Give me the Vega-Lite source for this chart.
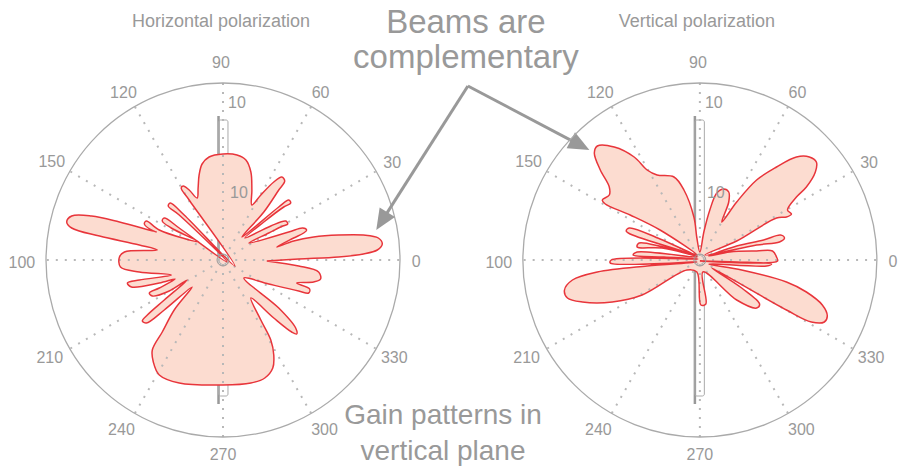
{
"$schema":"https://vega.github.io/schema/vega-lite/v6.json",
"width":898,"height":471,"padding":0,
"autosize":{"type":"fit","contains":"padding"},
"config":{"view":{"stroke":null},"text":{"font":"Liberation Sans"}},
"datasets":{
"spokes":[
{"x":17.7,"y":0,"lx":19.4,"ly":-0.2,"label":"0"},
{"x":15.33,"y":8.85,"lx":17.0,"ly":9.7,"label":"30"},
{"x":8.85,"y":15.33,"lx":9.8,"ly":16.7,"label":"60"},
{"x":0,"y":17.7,"lx":-0.2,"ly":19.7,"label":"90"},
{"x":-8.85,"y":15.33,"lx":-10.0,"ly":16.7,"label":"120"},
{"x":-15.33,"y":8.85,"lx":-17.2,"ly":9.8,"label":"150"},
{"x":-17.7,"y":0,"lx":-20.2,"ly":-0.3,"label":"100"},
{"x":-15.33,"y":-8.85,"lx":-17.4,"ly":-9.8,"label":"210"},
{"x":-8.85,"y":-15.33,"lx":-10.2,"ly":-17.0,"label":"240"},
{"x":0,"y":-17.7,"lx":0,"ly":-19.5,"label":"270"},
{"x":8.85,"y":-15.33,"lx":10.2,"ly":-17.0,"label":"300"},
{"x":15.33,"y":-8.85,"lx":17.2,"ly":-9.8,"label":"330"}],
"rlabels":[{"x":1.4,"y":15.7,"t":"10"},{"x":1.6,"y":6.7,"t":"10"}],
"origin":[{"x":0,"y":0}],
"hpol":[
{"i":1,"x":4.4,"y":-0.1},{"i":2,"x":7.6,"y":0.1},{"i":3,"x":11.6,"y":0.3},{"i":4,"x":14.1,"y":0.6},{"i":5,"x":15.5,"y":1.0},
{"i":6,"x":16.0,"y":1.6},{"i":7,"x":15.6,"y":2.2},{"i":8,"x":14.1,"y":2.5},{"i":9,"x":11.6,"y":2.5},{"i":10,"x":9.1,"y":2.3},
{"i":11,"x":7.1,"y":1.9},{"i":12,"x":5.4,"y":1.3},{"i":13,"x":7.1,"y":2.2},{"i":14,"x":8.1,"y":2.7},{"i":15,"x":8.4,"y":3.0},
{"i":16,"x":8.0,"y":3.2},{"i":17,"x":6.6,"y":2.8},{"i":18,"x":2.6,"y":1.7},{"i":19,"x":4.6,"y":2.7},{"i":20,"x":6.0,"y":3.4},
{"i":21,"x":6.5,"y":3.6},{"i":22,"x":6.3,"y":3.9},{"i":23,"x":4.8,"y":3.4},{"i":24,"x":2.2,"y":2.2},{"i":25,"x":4.1,"y":3.8},
{"i":26,"x":6.1,"y":5.3},{"i":27,"x":6.8,"y":5.7},{"i":28,"x":6.6,"y":6.0},{"i":29,"x":5.6,"y":5.3},{"i":30,"x":1.9,"y":2.3},
{"i":31,"x":4.1,"y":4.8},{"i":32,"x":5.6,"y":7.0},{"i":33,"x":6.2,"y":7.9},{"i":34,"x":5.9,"y":8.3},{"i":35,"x":5.1,"y":7.8},
{"i":36,"x":3.8,"y":6.5},{"i":37,"x":2.9,"y":5.5},{"i":38,"x":2.9,"y":7.0},{"i":39,"x":2.8,"y":8.8},{"i":40,"x":2.3,"y":10.0},
{"i":41,"x":1.4,"y":10.5},{"i":42,"x":0.0,"y":10.6},{"i":43,"x":-1.4,"y":10.3},{"i":44,"x":-2.1,"y":9.6},{"i":45,"x":-2.4,"y":8.5},
{"i":46,"x":-2.5,"y":7.2},{"i":47,"x":-2.6,"y":6.2},{"i":48,"x":-3.4,"y":7.0},{"i":49,"x":-4.0,"y":7.4},{"i":50,"x":-4.2,"y":7.2},
{"i":51,"x":-3.4,"y":6.0},{"i":52,"x":1.2,"y":-0.6},{"i":53,"x":-3.9,"y":4.5},{"i":54,"x":-5.3,"y":5.7},{"i":55,"x":-5.5,"y":5.4},
{"i":56,"x":-4.4,"y":4.5},{"i":57,"x":0.4,"y":-0.2},{"i":58,"x":-4.4,"y":3.2},{"i":59,"x":-5.9,"y":4.2},{"i":60,"x":-6.1,"y":3.9},
{"i":61,"x":-5.2,"y":3.2},{"i":62,"x":-2.4,"y":1.8},{"i":63,"x":-6.4,"y":3.0},{"i":64,"x":-7.7,"y":3.9},{"i":65,"x":-7.9,"y":3.6},
{"i":66,"x":-7.2,"y":3.0},{"i":67,"x":-6.7,"y":2.8},{"i":68,"x":-10.4,"y":3.8},{"i":69,"x":-13.2,"y":4.4},{"i":70,"x":-15.2,"y":4.4},
{"i":71,"x":-15.7,"y":3.8},{"i":72,"x":-15.2,"y":3.2},{"i":73,"x":-12.4,"y":2.4},{"i":74,"x":-8.4,"y":1.5},{"i":75,"x":-6.6,"y":1.0},
{"i":76,"x":-9.9,"y":0.8},{"i":77,"x":-10.4,"y":0.3},{"i":78,"x":-10.3,"y":-0.7},{"i":79,"x":-8.4,"y":-1.2},{"i":80,"x":-5.2,"y":-1.5},
{"i":81,"x":-8.4,"y":-2.0},{"i":82,"x":-9.6,"y":-2.3},{"i":83,"x":-9.2,"y":-2.7},{"i":84,"x":-6.4,"y":-2.3},{"i":85,"x":-4.8,"y":-1.9},
{"i":86,"x":-6.4,"y":-2.8},{"i":87,"x":-7.4,"y":-3.3},{"i":88,"x":-7.1,"y":-3.6},{"i":89,"x":-5.4,"y":-3.1},{"i":90,"x":-3.6,"y":-2.0},
{"i":91,"x":-5.9,"y":-4.0},{"i":92,"x":-7.6,"y":-5.5},{"i":93,"x":-8.1,"y":-6.1},{"i":94,"x":-7.7,"y":-6.3},{"i":95,"x":-5.9,"y":-5.0},
{"i":96,"x":-3.1,"y":-2.7},{"i":97,"x":-4.9,"y":-5.0},{"i":98,"x":-6.1,"y":-7.2},{"i":99,"x":-7.1,"y":-9.0},{"i":100,"x":-7.0,"y":-10.2},
{"i":101,"x":-6.4,"y":-11.5},{"i":102,"x":-4.4,"y":-12.3},{"i":103,"x":0.0,"y":-12.5},{"i":104,"x":2.8,"y":-12.3},{"i":105,"x":4.2,"y":-11.8},
{"i":106,"x":5.0,"y":-10.8},{"i":107,"x":5.1,"y":-9.5},{"i":108,"x":4.8,"y":-8.0},{"i":109,"x":3.8,"y":-6.0},{"i":110,"x":2.8,"y":-3.8},
{"i":111,"x":5.1,"y":-5.8},{"i":112,"x":6.9,"y":-7.2},{"i":113,"x":7.4,"y":-7.4},{"i":114,"x":7.3,"y":-6.8},{"i":115,"x":5.6,"y":-4.8},
{"i":116,"x":2.1,"y":-1.8},{"i":117,"x":4.6,"y":-2.4},{"i":118,"x":7.6,"y":-3.1},{"i":119,"x":8.6,"y":-3.3},{"i":120,"x":8.7,"y":-2.9},
{"i":121,"x":7.4,"y":-2.3},{"i":122,"x":9.1,"y":-2.2},{"i":123,"x":9.8,"y":-1.9},{"i":124,"x":9.6,"y":-1.2},{"i":125,"x":7.6,"y":-0.6},
{"i":126,"x":4.4,"y":-0.1}],
"vpol":[
{"i":1,"x":0.0,"y":-0.1},{"i":2,"x":7.8,"y":-0.1},{"i":3,"x":7.7,"y":0.3},{"i":4,"x":7.3,"y":0.9},{"i":5,"x":5.7,"y":0.9},
{"i":6,"x":3.0,"y":0.8},{"i":7,"x":0.9,"y":0.4},{"i":8,"x":3.7,"y":1.4},{"i":9,"x":6.4,"y":2.0},{"i":10,"x":8.1,"y":2.5},
{"i":11,"x":8.5,"y":2.2},{"i":12,"x":8.0,"y":1.8},{"i":13,"x":5.7,"y":1.5},{"i":14,"x":0.5,"y":0.5},{"i":15,"x":3.7,"y":1.9},
{"i":16,"x":7.7,"y":4.2},{"i":17,"x":8.7,"y":4.3},{"i":18,"x":9.2,"y":4.6},{"i":19,"x":8.8,"y":5.0},{"i":20,"x":9.7,"y":6.3},
{"i":21,"x":10.7,"y":7.3},{"i":22,"x":11.6,"y":8.8},{"i":23,"x":11.7,"y":9.8},{"i":24,"x":11.0,"y":10.3},{"i":25,"x":9.7,"y":10.3},
{"i":26,"x":7.7,"y":9.3},{"i":27,"x":5.7,"y":8.0},{"i":28,"x":3.7,"y":5.8},{"i":29,"x":2.2,"y":3.8},{"i":30,"x":2.9,"y":5.8},
{"i":31,"x":2.9,"y":6.8},{"i":32,"x":2.4,"y":7.1},{"i":33,"x":1.7,"y":6.7},{"i":34,"x":1.0,"y":5.0},{"i":35,"x":0.4,"y":2.8},
{"i":36,"x":0.0,"y":0.8},{"i":37,"x":-0.3,"y":2.2},{"i":38,"x":-0.6,"y":4.3},{"i":39,"x":-1.6,"y":7.0},{"i":40,"x":-2.6,"y":8.3},
{"i":41,"x":-4.3,"y":8.5},{"i":42,"x":-5.3,"y":9.0},{"i":43,"x":-6.6,"y":10.3},{"i":44,"x":-8.6,"y":11.3},{"i":45,"x":-10.3,"y":11.4},
{"i":46,"x":-10.6,"y":10.7},{"i":47,"x":-10.0,"y":9.0},{"i":48,"x":-9.1,"y":7.3},{"i":49,"x":-9.1,"y":6.5},{"i":50,"x":-9.8,"y":6.0},
{"i":51,"x":-9.5,"y":5.6},{"i":52,"x":-7.0,"y":4.5},{"i":53,"x":-4.0,"y":3.0},{"i":54,"x":-0.3,"y":0.5},{"i":55,"x":-4.0,"y":2.1},
{"i":56,"x":-7.1,"y":3.2},{"i":57,"x":-7.4,"y":2.9},{"i":58,"x":-7.0,"y":2.6},{"i":59,"x":-0.3,"y":0.4},{"i":60,"x":-6.1,"y":1.7},
{"i":61,"x":-6.3,"y":1.3},{"i":62,"x":-3.8,"y":1.2},{"i":63,"x":-0.3,"y":0.3},{"i":64,"x":-6.3,"y":0.8},{"i":65,"x":-6.7,"y":0.5},
{"i":66,"x":-3.6,"y":0.3},{"i":67,"x":-0.2,"y":0.1},{"i":68,"x":-8.9,"y":0.0},{"i":69,"x":-9.0,"y":-0.3},{"i":70,"x":-0.3,"y":-0.2},
{"i":71,"x":-5.3,"y":-0.6},{"i":72,"x":-10.3,"y":-1.2},{"i":73,"x":-12.8,"y":-2.0},{"i":74,"x":-13.6,"y":-3.0},{"i":75,"x":-13.3,"y":-3.8},
{"i":76,"x":-11.8,"y":-4.2},{"i":77,"x":-8.8,"y":-4.2},{"i":78,"x":-5.8,"y":-3.5},{"i":79,"x":-1.3,"y":-1.0},{"i":80,"x":-0.3,"y":-1.2},
{"i":81,"x":0.1,"y":-4.5},{"i":82,"x":0.6,"y":-4.4},{"i":83,"x":0.3,"y":-1.2},{"i":84,"x":3.7,"y":-4.0},{"i":85,"x":5.7,"y":-4.8},
{"i":86,"x":6.0,"y":-4.4},{"i":87,"x":4.2,"y":-2.8},{"i":88,"x":1.2,"y":-0.8},{"i":89,"x":8.7,"y":-5.0},{"i":90,"x":11.2,"y":-6.2},
{"i":91,"x":12.5,"y":-6.2},{"i":92,"x":12.8,"y":-5.6},{"i":93,"x":12.3,"y":-4.5},{"i":94,"x":10.7,"y":-3.2},{"i":95,"x":8.7,"y":-2.2},
{"i":96,"x":4.2,"y":-1.0},{"i":97,"x":0.9,"y":-0.4},{"i":98,"x":6.7,"y":-0.6},{"i":99,"x":7.2,"y":-0.4},{"i":100,"x":3.7,"y":-0.2},
{"i":101,"x":0.0,"y":-0.1}]
},
"layer":[
{"layer":[
 {"data":{"values":[{"x":-0.45,"y":-14.4,"y2":14.4}]},"mark":{"type":"rule","color":"#999999","strokeWidth":2.5},
  "encoding":{"x":{"field":"x","type":"quantitative","scale":{"domain":[-22.4,67.4],"nice":false,"zero":false},"axis":null},
   "y":{"field":"y","type":"quantitative","scale":{"domain":[-21.1,26.0],"nice":false,"zero":false},"axis":null},"y2":{"field":"y2"}}},
 {"data":{"values":[{"x":-0.45,"x2":0.5,"y":-13.6,"y2":14.0}]},"mark":{"type":"rect","fill":"transparent","stroke":"#aaaaaa","strokeWidth":1,"cornerRadius":2},
  "encoding":{"x":{"field":"x","type":"quantitative","scale":{"domain":[-22.4,67.4],"nice":false,"zero":false},"axis":null},"x2":{"field":"x2"},
   "y":{"field":"y","type":"quantitative","scale":{"domain":[-21.1,26.0],"nice":false,"zero":false},"axis":null},"y2":{"field":"y2"}}},
 {"data":{"name":"hpol"},"mark":{"type":"line","fill":"#fcdcd0","strokeWidth":0,"strokeOpacity":0,"interpolate":"catmull-rom"},
  "encoding":{"x":{"field":"x","type":"quantitative","scale":{"domain":[-22.4,67.4],"nice":false,"zero":false},"axis":null},
   "y":{"field":"y","type":"quantitative","scale":{"domain":[-21.1,26.0],"nice":false,"zero":false},"axis":null},"order":{"field":"i","type":"quantitative"}}},
 {"data":{"name":"spokes"},"mark":{"type":"rule","color":"#b8b8b8","strokeWidth":2,"strokeDash":[2,7]},
  "encoding":{"x":{"field":"x","type":"quantitative","scale":{"domain":[-22.4,67.4],"nice":false,"zero":false},"axis":null},
   "y":{"field":"y","type":"quantitative","scale":{"domain":[-21.1,26.0],"nice":false,"zero":false},"axis":null},"x2":{"datum":0},"y2":{"datum":0}}},
 {"data":{"name":"hpol"},"mark":{"type":"line","color":"#e8353b","strokeWidth":1.5,"interpolate":"catmull-rom"},
  "encoding":{"x":{"field":"x","type":"quantitative","scale":{"domain":[-22.4,67.4],"nice":false,"zero":false},"axis":null},
   "y":{"field":"y","type":"quantitative","scale":{"domain":[-21.1,26.0],"nice":false,"zero":false},"axis":null},"order":{"field":"i","type":"quantitative"}}},
 {"data":{"name":"origin"},"mark":{"type":"point","shape":"circle","size":125316,"filled":false,"stroke":"#aaaaaa","strokeWidth":1.3,"opacity":1},
  "encoding":{"x":{"field":"x","type":"quantitative","scale":{"domain":[-22.4,67.4],"nice":false,"zero":false},"axis":null},
   "y":{"field":"y","type":"quantitative","scale":{"domain":[-21.1,26.0],"nice":false,"zero":false},"axis":null}}},
 {"data":{"name":"origin"},"mark":{"type":"point","shape":"circle","size":144,"filled":false,"stroke":"#999999","strokeWidth":1,"opacity":1},
  "encoding":{"x":{"field":"x","type":"quantitative","scale":{"domain":[-22.4,67.4],"nice":false,"zero":false},"axis":null},
   "y":{"field":"y","type":"quantitative","scale":{"domain":[-21.1,26.0],"nice":false,"zero":false},"axis":null}}},
 {"data":{"name":"spokes"},"mark":{"type":"text","fontSize":16,"color":"#999999","align":"center","baseline":"middle"},
  "encoding":{"x":{"field":"lx","type":"quantitative","scale":{"domain":[-22.4,67.4],"nice":false,"zero":false},"axis":null},
   "y":{"field":"ly","type":"quantitative","scale":{"domain":[-21.1,26.0],"nice":false,"zero":false},"axis":null},"text":{"field":"label"}}},
 {"data":{"name":"rlabels"},"mark":{"type":"text","fontSize":16,"color":"#999999","align":"center","baseline":"middle"},
  "encoding":{"x":{"field":"x","type":"quantitative","scale":{"domain":[-22.4,67.4],"nice":false,"zero":false},"axis":null},
   "y":{"field":"y","type":"quantitative","scale":{"domain":[-21.1,26.0],"nice":false,"zero":false},"axis":null},"text":{"field":"t"}}},
 {"data":{"values":[{"x":-0.2,"y":23.8,"t":"Horizontal polarization"}]},"mark":{"type":"text","fontSize":18,"color":"#999999","align":"center","baseline":"middle"},
  "encoding":{"x":{"field":"x","type":"quantitative","scale":{"domain":[-22.4,67.4],"nice":false,"zero":false},"axis":null},
   "y":{"field":"y","type":"quantitative","scale":{"domain":[-21.1,26.0],"nice":false,"zero":false},"axis":null},"text":{"field":"t"}}},
 {"data":{"values":[{"x":24.4,"y":22.7,"t":"Beams are"},{"x":24.4,"y":19.2,"t":"complementary"}]},"mark":{"type":"text","fontSize":33,"color":"#999999","align":"center","baseline":"alphabetic"},
  "encoding":{"x":{"field":"x","type":"quantitative","scale":{"domain":[-22.4,67.4],"nice":false,"zero":false},"axis":null},
   "y":{"field":"y","type":"quantitative","scale":{"domain":[-21.1,26.0],"nice":false,"zero":false},"axis":null},"text":{"field":"t"}}},
 {"data":{"values":[{"x":22.1,"y":-16.4,"t":"Gain patterns in"},{"x":22.1,"y":-20.0,"t":"vertical plane"}]},"mark":{"type":"text","fontSize":28,"color":"#999999","align":"center","baseline":"alphabetic"},
  "encoding":{"x":{"field":"x","type":"quantitative","scale":{"domain":[-22.4,67.4],"nice":false,"zero":false},"axis":null},
   "y":{"field":"y","type":"quantitative","scale":{"domain":[-21.1,26.0],"nice":false,"zero":false},"axis":null},"text":{"field":"t"}}},
 {"data":{"values":[{"x":24.6,"y":17.4,"x2":15.95,"y2":3.89},{"x":24.6,"y":17.4,"x2":35.87,"y2":11.49}]},"mark":{"type":"rule","color":"#999999","strokeWidth":3},
  "encoding":{"x":{"field":"x","type":"quantitative","scale":{"domain":[-22.4,67.4],"nice":false,"zero":false},"axis":null},"x2":{"field":"x2"},
   "y":{"field":"y","type":"quantitative","scale":{"domain":[-21.1,26.0],"nice":false,"zero":false},"axis":null},"y2":{"field":"y2"}}},
 {"data":{"values":[{"x":15.95,"y":3.89}]},"mark":{"type":"point","shape":"M0,-1L0.86,1L-0.86,1Z","size":441,"filled":true,"color":"#999999","opacity":1,"angle":211.8},
  "encoding":{"x":{"field":"x","type":"quantitative","scale":{"domain":[-22.4,67.4],"nice":false,"zero":false},"axis":null},
   "y":{"field":"y","type":"quantitative","scale":{"domain":[-21.1,26.0],"nice":false,"zero":false},"axis":null}}},
 {"data":{"values":[{"x":35.87,"y":11.49}]},"mark":{"type":"point","shape":"M0,-1L0.86,1L-0.86,1Z","size":441,"filled":true,"color":"#999999","opacity":1,"angle":117.7},
  "encoding":{"x":{"field":"x","type":"quantitative","scale":{"domain":[-22.4,67.4],"nice":false,"zero":false},"axis":null},
   "y":{"field":"y","type":"quantitative","scale":{"domain":[-21.1,26.0],"nice":false,"zero":false},"axis":null}}}
]},
{"layer":[
 {"data":{"values":[{"x":-0.5,"y":-14.4,"y2":14.4}]},"mark":{"type":"rule","color":"#999999","strokeWidth":2.5},
  "encoding":{"x":{"field":"x","type":"quantitative","scale":{"domain":[-70.3,19.5],"nice":false,"zero":false},"axis":null},
   "y":{"field":"y","type":"quantitative","scale":{"domain":[-21.1,26.0],"nice":false,"zero":false},"axis":null},"y2":{"field":"y2"}}},
 {"data":{"values":[{"x":-0.5,"x2":0.45,"y":-13.6,"y2":14.0}]},"mark":{"type":"rect","fill":"transparent","stroke":"#aaaaaa","strokeWidth":1,"cornerRadius":2},
  "encoding":{"x":{"field":"x","type":"quantitative","scale":{"domain":[-70.3,19.5],"nice":false,"zero":false},"axis":null},"x2":{"field":"x2"},
   "y":{"field":"y","type":"quantitative","scale":{"domain":[-21.1,26.0],"nice":false,"zero":false},"axis":null},"y2":{"field":"y2"}}},
 {"data":{"name":"vpol"},"mark":{"type":"line","fill":"#fcdcd0","strokeWidth":0,"strokeOpacity":0,"interpolate":"catmull-rom"},
  "encoding":{"x":{"field":"x","type":"quantitative","scale":{"domain":[-70.3,19.5],"nice":false,"zero":false},"axis":null},
   "y":{"field":"y","type":"quantitative","scale":{"domain":[-21.1,26.0],"nice":false,"zero":false},"axis":null},"order":{"field":"i","type":"quantitative"}}},
 {"data":{"name":"spokes"},"mark":{"type":"rule","color":"#b8b8b8","strokeWidth":2,"strokeDash":[2,7]},
  "encoding":{"x":{"field":"x","type":"quantitative","scale":{"domain":[-70.3,19.5],"nice":false,"zero":false},"axis":null},
   "y":{"field":"y","type":"quantitative","scale":{"domain":[-21.1,26.0],"nice":false,"zero":false},"axis":null},"x2":{"datum":0},"y2":{"datum":0}}},
 {"data":{"name":"vpol"},"mark":{"type":"line","color":"#e8353b","strokeWidth":1.5,"interpolate":"catmull-rom"},
  "encoding":{"x":{"field":"x","type":"quantitative","scale":{"domain":[-70.3,19.5],"nice":false,"zero":false},"axis":null},
   "y":{"field":"y","type":"quantitative","scale":{"domain":[-21.1,26.0],"nice":false,"zero":false},"axis":null},"order":{"field":"i","type":"quantitative"}}},
 {"data":{"name":"origin"},"mark":{"type":"point","shape":"circle","size":125316,"filled":false,"stroke":"#aaaaaa","strokeWidth":1.3,"opacity":1},
  "encoding":{"x":{"field":"x","type":"quantitative","scale":{"domain":[-70.3,19.5],"nice":false,"zero":false},"axis":null},
   "y":{"field":"y","type":"quantitative","scale":{"domain":[-21.1,26.0],"nice":false,"zero":false},"axis":null}}},
 {"data":{"name":"origin"},"mark":{"type":"point","shape":"circle","size":144,"filled":false,"stroke":"#999999","strokeWidth":1,"opacity":1},
  "encoding":{"x":{"field":"x","type":"quantitative","scale":{"domain":[-70.3,19.5],"nice":false,"zero":false},"axis":null},
   "y":{"field":"y","type":"quantitative","scale":{"domain":[-21.1,26.0],"nice":false,"zero":false},"axis":null}}},
 {"data":{"name":"spokes"},"mark":{"type":"text","fontSize":16,"color":"#999999","align":"center","baseline":"middle"},
  "encoding":{"x":{"field":"lx","type":"quantitative","scale":{"domain":[-70.3,19.5],"nice":false,"zero":false},"axis":null},
   "y":{"field":"ly","type":"quantitative","scale":{"domain":[-21.1,26.0],"nice":false,"zero":false},"axis":null},"text":{"field":"label"}}},
 {"data":{"name":"rlabels"},"mark":{"type":"text","fontSize":16,"color":"#999999","align":"center","baseline":"middle"},
  "encoding":{"x":{"field":"x","type":"quantitative","scale":{"domain":[-70.3,19.5],"nice":false,"zero":false},"axis":null},
   "y":{"field":"y","type":"quantitative","scale":{"domain":[-21.1,26.0],"nice":false,"zero":false},"axis":null},"text":{"field":"t"}}},
 {"data":{"values":[{"x":-0.3,"y":23.8,"t":"Vertical polarization"}]},"mark":{"type":"text","fontSize":18,"color":"#999999","align":"center","baseline":"middle"},
  "encoding":{"x":{"field":"x","type":"quantitative","scale":{"domain":[-70.3,19.5],"nice":false,"zero":false},"axis":null},
   "y":{"field":"y","type":"quantitative","scale":{"domain":[-21.1,26.0],"nice":false,"zero":false},"axis":null},"text":{"field":"t"}}}
]}
],
"resolve":{"scale":{"x":"independent","y":"independent"}}
}
